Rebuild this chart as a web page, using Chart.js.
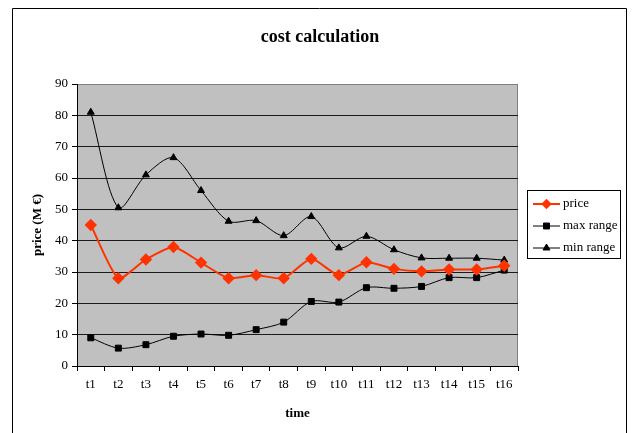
<!DOCTYPE html>
<html lang="en">
<head>
    <meta charset="UTF-8">
    <title>cost calculation</title>
    <script src="https://cdn.jsdelivr.net/npm/chart.js"></script>
    <style>
        body {
            margin: 0;
            padding: 0;
            background: #fff;
        }
        #chart-box {
            width: 632px;
            height: 433px;
        }
    </style>
</head>
<body>
    <div id="chart-box"><canvas id="chart" width="632" height="433"></canvas></div>

    <script>
        // values
        const timeLabels = ["t1", "t2", "t3", "t4", "t5", "t6", "t7", "t8", "t9", "t10", "t11", "t12", "t13", "t14", "t15", "t16"];
        const priceValues = [45, 28, 34, 38, 33, 28, 29, 28, 34.2, 29, 33.1, 31, 30.2, 30.8, 30.8, 32];
        const maxRangeValues = [9, 5.7, 6.8, 9.5, 10.2, 9.8, 11.6, 14, 20.6, 20.4, 25, 24.8, 25.4, 28.2, 28.2, 30.6];
        const minRangeValues = [81, 50.5, 61, 66.5, 56, 46.2, 46.4, 41.6, 47.7, 37.7, 41.4, 37.1, 34.5, 34.4, 34.4, 33.8];
        const yTicks = { min: 0, max: 90, step: 10 };

        const serif = "'Liberation Serif', 'Times New Roman', serif";

        // grey plot area, page frame, title and boxed legend like the spreadsheet export
        const excelLook = {
            id: "excelLook",
            beforeDraw(chart) {
                const { ctx, chartArea: a } = chart;
                ctx.save();
                ctx.fillStyle = "#c0c0c0";
                ctx.fillRect(a.left, a.top, a.right - a.left, a.bottom - a.top);
                ctx.strokeStyle = "#808080";
                ctx.lineWidth = 1;
                ctx.strokeRect(a.left + 0.5, a.top + 0.5, a.right - a.left - 1, a.bottom - a.top);

                // outer frame
                ctx.strokeStyle = "#000";
                ctx.beginPath();
                ctx.moveTo(12.5, 433);
                ctx.lineTo(12.5, 8.5);
                ctx.lineTo(626.5, 8.5);
                ctx.lineTo(626.5, 433);
                ctx.stroke();

                // title
                ctx.fillStyle = "#000";
                ctx.font = "bold 18px " + serif;
                ctx.textAlign = "center";
                ctx.textBaseline = "middle";
                ctx.fillText("cost calculation", 320, 37);
                ctx.restore();
            },
            afterDraw(chart) {
                const { ctx } = chart;
                ctx.save();
                ctx.fillStyle = "#fff";
                ctx.fillRect(527, 190, 93, 68);
                ctx.strokeStyle = "#000";
                ctx.lineWidth = 1;
                ctx.strokeRect(527.5, 190.5, 93, 68);
                ctx.font = "13px " + serif;
                ctx.textBaseline = "middle";
                ctx.textAlign = "left";
                chart.data.datasets.forEach((ds, i) => {
                    const y = 204 + i * 22;
                    ctx.strokeStyle = ds.borderColor;
                    ctx.lineWidth = ds.borderWidth;
                    ctx.beginPath();
                    ctx.moveTo(533, y);
                    ctx.lineTo(560, y);
                    ctx.stroke();
                    ctx.fillStyle = ds.pointBackgroundColor;
                    ctx.strokeStyle = ds.pointBorderColor;
                    ctx.lineWidth = 1;
                    Chart.helpers.drawPoint(ctx, { pointStyle: ds.pointStyle, radius: ds.pointRadius, borderWidth: 1, rotation: 0 }, 546.5, y);
                    ctx.fillStyle = "#000";
                    ctx.fillText(ds.label, 563, y);
                });
                ctx.restore();
            }
        };

        function makeChart() {
            const canvas = document.getElementById("chart");
            new Chart(canvas.getContext("2d"), {
                type: "line",
                data: {
                    labels: timeLabels,
                    datasets: [
                        {
                            label: "price",
                            data: priceValues,
                            borderColor: "#ff3300",
                            borderWidth: 2,
                            pointStyle: "rectRot",
                            pointRadius: 4.8,
                            pointBackgroundColor: "#ff3300",
                            pointBorderColor: "#ff3300",
                            tension: 0.2,
                        },
                        {
                            label: "max range",
                            data: maxRangeValues,
                            borderColor: "#000",
                            borderWidth: 1,
                            pointStyle: "rect",
                            pointRadius: 4.2,
                            pointBackgroundColor: "#000",
                            pointBorderColor: "#000",
                            tension: 0.3,
                        },
                        {
                            label: "min range",
                            data: minRangeValues,
                            borderColor: "#000",
                            borderWidth: 1,
                            pointStyle: "triangle",
                            pointRadius: 4,
                            pointBackgroundColor: "#000",
                            pointBorderColor: "#000",
                            tension: 0.3,
                        },
                    ],
                },
                options: {
                    responsive: false,
                    animation: false,
                    layout: { padding: { top: 84, right: 114, left: 0, bottom: 0 } },
                    plugins: {
                        legend: { display: false },
                        tooltip: { enabled: false },
                    },
                    scales: {
                        x: {
                            offset: true,
                            afterFit(scale) { scale.height = 67; },
                            grid: {
                                offset: true,
                                drawOnChartArea: false,
                                tickLength: 5,
                                color: "#000",
                            },
                            border: { color: "#000", width: 1 },
                            ticks: {
                                color: "#000",
                                padding: 6,
                                maxRotation: 0,
                                autoSkip: false,
                                font: { family: serif, size: 13 },
                            },
                            title: {
                                display: true,
                                text: "time",
                                color: "#000",
                                padding: { top: 0, bottom: 12 },
                                font: { family: serif, size: 13, weight: "bold" },
                            },
                        },
                        y: {
                            min: yTicks.min,
                            max: yTicks.max,
                            afterFit(scale) { scale.width = 77; },
                            grid: {
                                color: (c) => (c.tick && c.tick.value === yTicks.max ? "#808080" : "#1a1a1a"),
                                tickColor: "#000",
                                tickLength: 5,
                            },
                            border: { color: "#000", width: 1 },
                            ticks: {
                                stepSize: yTicks.step,
                                color: "#000",
                                padding: 4,
                                font: { family: serif, size: 13 },
                            },
                            title: {
                                display: true,
                                text: "price (M €)",
                                color: "#000",
                                padding: { top: 30, bottom: 0 },
                                font: { family: serif, size: 13, weight: "bold" },
                            },
                        },
                    },
                },
                plugins: [excelLook],
            });
        }

        document.addEventListener("DOMContentLoaded", makeChart);
    </script>
</body>
</html>
